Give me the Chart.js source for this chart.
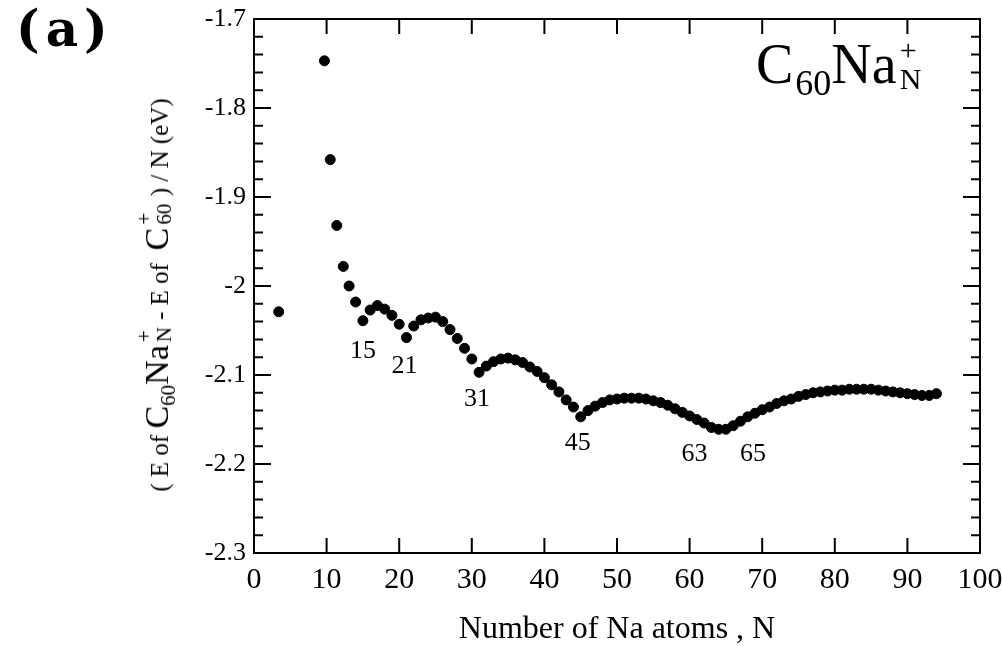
<!DOCTYPE html>
<html>
<head>
<meta charset="utf-8">
<script src="https://cdn.jsdelivr.net/npm/chart.js@4.4.0/dist/chart.umd.min.js"></script>
<style>
  html, body { margin:0; padding:0; background:#fff; }
  #wrap { position:relative; width:1002px; height:653px; }
  canvas { position:absolute; left:0; top:0; }
  .ov { position:absolute; font-family:"Liberation Serif","Times New Roman",serif; color:#000; white-space:nowrap; line-height:1; }
  #panel { left:16px; top:4px; font-family:"DejaVu Serif",serif; font-weight:bold; font-size:50px; letter-spacing:6px; }
  #formula { left:756px; top:36px; font-size:56px; }
  #formula .sub { font-size:36px; position:relative; top:12px; margin-left:2px; }
  .stack { display:inline-block; position:relative; height:1em; vertical-align:baseline; }
  .stack .up { position:absolute; left:3px; top:-0.6em; }
  .stack .dn { position:absolute; left:3px; top:0.35em; }
  #formula .stack { font-size:30px; width:30px; }
  #ytitle { left:157px; top:295px; transform:translate(-50%,-50%) rotate(-90deg); font-size:25px; }
  #ytitle .big { font-size:34px; }
  #ytitle .sub { font-size:21px; position:relative; top:7px; }
  #ytitle .stack { font-size:21px; width:19px; }
</style>
</head>
<body>
<div id="wrap">
  <canvas id="c" width="1002" height="653"></canvas>
  <div class="ov" id="panel">(a)</div>
  <div class="ov" id="formula">C<span class="sub">60</span>Na<span class="stack"><span class="up">+</span><span class="dn">N</span></span></div>
  <div class="ov" id="ytitle">( E of <span class="big">C</span><span class="sub">60</span><span class="big">Na</span><span class="stack"><span class="up">+</span><span class="dn">N</span></span> - E of &nbsp;<span class="big">C</span><span class="stack"><span class="up">+</span><span class="dn">60</span></span>&nbsp; ) / N (eV)</div>
</div>
<script>
// ---- data ----
const nAtoms = [3.4, 9.7, 10.5, 11.4, 12.3, 13.1, 14, 15, 16, 17, 18, 19, 20,
  21, 22, 23, 24, 25, 26, 27, 28, 29, 30,
  31, 32, 33, 34, 35, 36, 37, 38, 39, 40,
  41, 42, 43, 44, 45, 46, 47, 48, 49, 50,
  51, 52, 53, 54, 55, 56, 57, 58, 59, 60,
  61, 62, 63, 64, 65, 66, 67, 68, 69, 70,
  71, 72, 73, 74, 75, 76, 77, 78, 79, 80,
  81, 82, 83, 84, 85, 86, 87, 88, 89, 90,
  91, 92, 93, 94];
const energyPerAtom = [-2.029, -1.747, -1.858, -1.932, -1.978, -2.000, -2.018, -2.039, -2.027, -2.022, -2.026, -2.033, -2.043,
  -2.058, -2.045, -2.038, -2.036, -2.035, -2.040, -2.049, -2.059, -2.070, -2.082,
  -2.097, -2.090, -2.085, -2.082, -2.081, -2.083, -2.086, -2.091, -2.096, -2.103,
  -2.111, -2.119, -2.128, -2.136, -2.147, -2.140, -2.135, -2.131, -2.128, -2.127,
  -2.126, -2.126, -2.126, -2.127, -2.129, -2.131, -2.134, -2.138, -2.142, -2.146,
  -2.150, -2.154, -2.159, -2.161, -2.161, -2.157, -2.152, -2.147, -2.143, -2.139,
  -2.136, -2.132, -2.129, -2.127, -2.124, -2.122, -2.120, -2.119, -2.118, -2.117,
  -2.117, -2.116, -2.116, -2.116, -2.116, -2.117, -2.118, -2.119, -2.120, -2.121,
  -2.122, -2.123, -2.123, -2.121];
const xTickValues = [0, 10, 20, 30, 40, 50, 60, 70, 80, 90, 100];
const yTickLabels = ['-2.3', '-2.2', '-2.1', '-2', '-1.9', '-1.8', '-1.7'];
const markedN = [15, 21, 31, 45, 63, 65];
const markedText = ['15', '21', '31', '45', '63', '65'];

const points = nAtoms.map((n, i) => ({ x: n, y: energyPerAtom[i] }));

// label offsets (px) relative to the marked point
const labelOffsets = { '15': [0, 30], '21': [-2, 29], '31': [-2, 27], '45': [-3, 26], '63': [-17, 27], '65': [27, 25] };

const framePlugin = {
  id: 'frame',
  afterDraw(chart) {
    const { ctx, chartArea: a, scales } = chart;
    ctx.save();
    ctx.strokeStyle = '#000';
    ctx.lineWidth = 2;
    ctx.strokeRect(a.left, a.top, a.right - a.left, a.bottom - a.top);
    xTickValues.forEach(v => {
      if (v === 0 || v === 100) return;
      const px = scales.x.getPixelForValue(v);
      ctx.beginPath();
      ctx.moveTo(px, a.bottom); ctx.lineTo(px, a.bottom - 15);
      ctx.moveTo(px, a.top); ctx.lineTo(px, a.top + 15);
      ctx.stroke();
    });
    for (let k = 1; k < 30; k++) {
      const v = -2.3 + k * 0.02;
      const py = scales.y.getPixelForValue(v);
      const len = (k % 5 === 0) ? 17 : 9;
      ctx.beginPath();
      ctx.moveTo(a.left, py); ctx.lineTo(a.left + len, py);
      ctx.moveTo(a.right, py); ctx.lineTo(a.right - len, py);
      ctx.stroke();
    }
    ctx.fillStyle = '#000';
    ctx.font = '26px "Liberation Serif", serif';
    ctx.textAlign = 'center';
    ctx.textBaseline = 'middle';
    markedN.forEach((n, i) => {
      const idx = nAtoms.indexOf(n);
      const px = scales.x.getPixelForValue(n);
      const py = scales.y.getPixelForValue(energyPerAtom[idx]);
      const off = labelOffsets[markedText[i]];
      ctx.fillText(markedText[i], px + off[0], py + off[1]);
    });
    ctx.restore();
  }
};

new Chart(document.getElementById('c'), {
  type: 'scatter',
  data: {
    datasets: [{
      data: points,
      backgroundColor: '#000',
      borderColor: '#000',
      pointRadius: 5,
      pointHoverRadius: 5,
      showLine: false
    }]
  },
  options: {
    responsive: false,
    animation: false,
    events: [],
    layout: { padding: { left: 0, right: 22, top: 19, bottom: 0 } },
    plugins: { legend: { display: false }, tooltip: { enabled: false } },
    scales: {
      x: {
        type: 'linear', min: 0, max: 100,
        afterBuildTicks: s => { s.ticks = xTickValues.map(v => ({ value: v })); },
        afterFit: s => { s.height = 100; s.paddingLeft = 0; s.paddingRight = 0; },
        ticks: { color: '#000', font: { family: '"Liberation Serif", serif', size: 30 }, padding: 9, maxRotation: 0 },
        grid: { display: false, drawTicks: false },
        border: { display: false },
        title: { display: true, text: 'Number of Na atoms , N', color: '#000',
                 font: { family: '"Liberation Serif", serif', size: 32 }, padding: { top: 0, bottom: 4 } }
      },
      y: {
        type: 'linear', min: -2.3, max: -1.7,
        afterBuildTicks: s => { s.ticks = yTickLabels.map(t => ({ value: parseFloat(t) })); },
        afterFit: s => { s.width = 254; s.paddingTop = 0; s.paddingBottom = 0; },
        ticks: { color: '#000', font: { family: '"Liberation Serif", serif', size: 26 }, padding: 8,
                 callback: (v) => yTickLabels.find(t => Math.abs(parseFloat(t) - v) < 1e-6) },
        grid: { display: false, drawTicks: false },
        border: { display: false }
      }
    }
  },
  plugins: [framePlugin]
});
</script>
</body>
</html>
